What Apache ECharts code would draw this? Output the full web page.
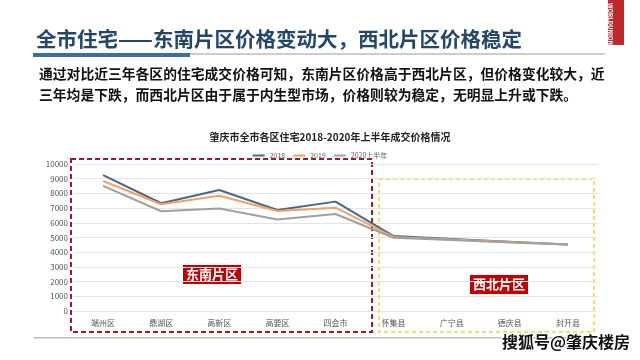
<!DOCTYPE html>
<html><head><meta charset="utf-8">
<script src="https://cdn.jsdelivr.net/npm/echarts@6/dist/echarts.min.js"></script>
<style>html,body{margin:0;padding:0;background:#fff}#c{width:640px;height:360px}</style>
</head><body><div id="c"></div>
<script>
const categories = ['端州区','鼎湖区','高新区','高要区','四会市','怀集县','广宁县','德庆县','封开县'];
const s2018 = [9250, 7330, 8230, 6870, 7440, 5100, 4900, 4710, 4520];
const s2019 = [8840, 7260, 7840, 6800, 7030, 5040, 4870, 4690, 4525];
const s2020 = [8511, 6785, 6970, 6231, 6598, 4980, 4835, 4668, 4523];
const seriesNames = ['2018', '2019', '2020上半年'];
const yTicks = {min: 0, max: 10000, interval: 1000};

const font = '"Noto Sans CJK SC", "Noto Sans", sans-serif';
const chart = echarts.init(document.getElementById('c'));
const colors = ['#4a6688', '#eea266', '#a0a0a0'];
chart.setOption({
  animation: false,
  backgroundColor: '#fff',
  title: {
    text: '肇庆市全市各区住宅2018-2020年上半年成交价格情况',
    left: 325, top: 127, textAlign: 'center',
    textStyle: {fontFamily: font, fontSize: 10, fontWeight: 'bold', color: '#222'}
  },
  legend: {
    top: 147, left: 'center',
    itemWidth: 12, itemHeight: 2, itemGap: 8,
    icon: 'rect',
    textStyle: {fontFamily: font, fontSize: 7, color: '#666'},
    data: seriesNames
  },
  grid: {left: 74, right: 43, top: 164, bottom: 49},
  xAxis: {
    type: 'category', data: categories, boundaryGap: true,
    axisLine: {show: false}, axisTick: {show: false},
    axisLabel: {fontFamily: font, fontSize: 8, color: '#555', margin: 8}
  },
  yAxis: {
    type: 'value', min: yTicks.min, max: yTicks.max, interval: yTicks.interval,
    axisLine: {show: false}, axisTick: {show: false},
    axisLabel: {fontFamily: font, fontSize: 8, color: '#555', margin: 6, formatter: v => String(v)},
    splitLine: {lineStyle: {color: '#e3e3e3', width: 1}}
  },
  series: [
    {name: seriesNames[0], type: 'line', data: s2018, symbol: 'none', lineStyle: {width: 2, color: colors[0]}, itemStyle: {color: colors[0]}},
    {name: seriesNames[1], type: 'line', data: s2019, symbol: 'none', lineStyle: {width: 2, color: colors[1]}, itemStyle: {color: colors[1]}},
    {name: seriesNames[2], type: 'line', data: s2020, symbol: 'none', lineStyle: {width: 2, color: colors[2]}, itemStyle: {color: colors[2]},
     label: {show: true, position: 'bottom', distance: 6, fontFamily: font, fontSize: 8, color: '#444'}}
  ],
  graphic: [
    {type: 'text', left: 36, top: 29, style: {text: '全市住宅——东南片区价格变动大，西北片区价格稳定', font: 'bold 20.5px ' + font, fill: '#24466a'}},
    {type: 'rect', shape: {x: 33, y: 53, width: 572, height: 2}, style: {fill: '#cdcdcd'}},
    {type: 'rect', shape: {x: 33, y: 53, width: 157, height: 4}, style: {fill: '#3a6ea5'}},
    {type: 'rect', shape: {x: 608, y: 0, width: 16, height: 45}, style: {fill: '#c0282d'}},
    {type: 'text', x: 613, y: 3, rotation: -Math.PI/2, style: {text: 'WORLDUNION', font: 'bold 6px ' + font, fill: '#fff'}, originX: 0, originY: 0},
    {type: 'text', left: 39, top: 67, style: {text: '通过对比近三年各区的住宅成交价格可知，东南片区价格高于西北片区，但价格变化较大，近', font: 'bold 13.8px ' + font, fill: '#111'}},
    {type: 'text', left: 39, top: 88, style: {text: '三年均是下跌，而西北片区由于属于内生型市场，价格则较为稳定，无明显上升或下跌。', font: 'bold 13.8px ' + font, fill: '#111'}},
    {type: 'rect', shape: {x: 71, y: 159, width: 301, height: 173}, style: {fill: 'none', stroke: '#a01c22', lineWidth: 2, lineDash: [5, 3]}},
    {type: 'rect', shape: {x: 379, y: 179, width: 215, height: 153}, style: {fill: 'none', stroke: '#f0d24e', lineWidth: 1.5, lineDash: [4, 3]}},
    {type: 'rect', shape: {x: 183, y: 265, width: 58, height: 19}, style: {fill: '#c00000'}},
    {type: 'text', x: 212, y: 274.5, style: {text: '东南片区', font: 'bold 13px ' + font, fill: '#fff', align: 'center', verticalAlign: 'middle'}},
    {type: 'rect', shape: {x: 470, y: 275, width: 58, height: 19}, style: {fill: '#c00000'}},
    {type: 'text', x: 499, y: 284.5, style: {text: '西北片区', font: 'bold 13px ' + font, fill: '#fff', align: 'center', verticalAlign: 'middle'}},
    {type: 'rect', shape: {x: 34, y: 337, width: 568, height: 1.5}, style: {fill: '#bfbfbf'}},
    {type: 'text', x: 502, y: 334, style: {text: '搜狐号@肇庆楼房', font: 'bold 16px ' + font, fill: '#111', stroke: '#fff', lineWidth: 2}}
  ]
});
</script></body></html>
